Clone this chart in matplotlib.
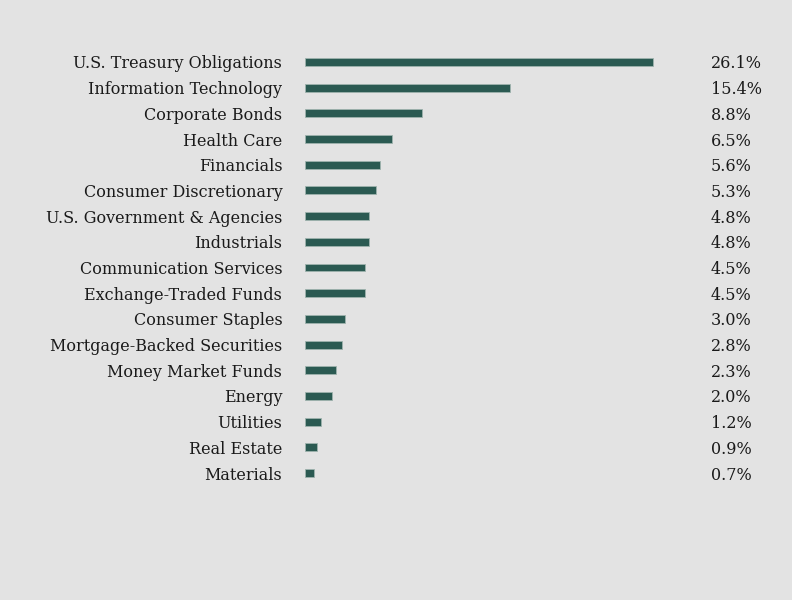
import matplotlib
matplotlib.use("Agg")
import matplotlib.pyplot as plt
import matplotlib.transforms as mtransforms

categories = ["U.S. Treasury Obligations", "Information Technology", "Corporate Bonds",
              "Health Care", "Financials", "Consumer Discretionary",
              "U.S. Government & Agencies", "Industrials", "Communication Services",
              "Exchange-Traded Funds", "Consumer Staples", "Mortgage-Backed Securities",
              "Money Market Funds", "Energy", "Utilities", "Real Estate", "Materials"]
values = [26.1, 15.4, 8.8, 6.5, 5.6, 5.3, 4.8, 4.8, 4.5, 4.5, 3.0, 2.8, 2.3, 2.0, 1.2, 0.9, 0.7]
value_labels = [f"{v:.1f}%" for v in values]

bg = "#e3e3e3"
bar_color = "#2b5a52"
font = ["DejaVu Serif"]

fig = plt.figure(figsize=(7.92, 6.0), dpi=100, facecolor=bg)
ax = fig.add_axes([305/792, 1-485.85/600, 400/792, (485.85-49.15)/600])
ax.set_facecolor(bg)
n = len(categories)
ypos = list(range(n))
ax.barh(ypos, values, height=0.31, color=bar_color, edgecolor="#9fb3ae", linewidth=0.6)
ax.set_xlim(0, 30)
ax.set_ylim(n - 0.5, -0.5)
for s in ax.spines.values():
    s.set_visible(False)
ax.set_xticks([])
ax.set_yticks(ypos)
ax.set_yticklabels(categories, family=font, fontsize=11.5, color="#1a1a1a")
ax.tick_params(axis="y", length=0, pad=16.3)

trans = mtransforms.blended_transform_factory(fig.transFigure, ax.transData)
for y, lab in zip(ypos, value_labels):
    ax.text(711/792, y, lab, transform=trans, ha="left", va="center_baseline",
            family=font, fontsize=11.5, color="#1a1a1a")
fig.savefig("out.png", dpi=100, facecolor=bg)
